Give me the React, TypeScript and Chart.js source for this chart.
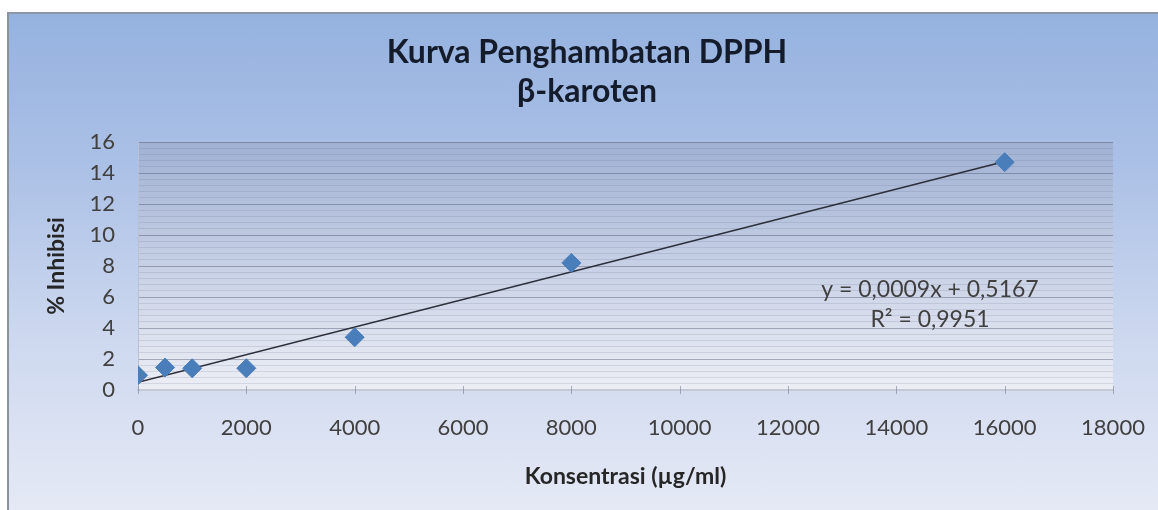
import React, { useEffect, useRef } from "react";
import { Chart, registerables } from "chart.js";

Chart.register(...registerables);

// ---- data ----
const concentrations = [0, 500, 1000, 2000, 4000, 8000, 16000];
const inhibition = [0.95, 1.45, 1.4, 1.4, 3.4, 8.2, 14.7];
const titleLines = ["Kurva Penghambatan DPPH", "β-karoten"];
const xTitle = "Konsentrasi (µg/ml)";
const yTitle = "% Inhibisi";
const equationLines = ["y = 0,0009x + 0,5167", "R² = 0,9951"];
const xTickValues = [0, 2000, 4000, 6000, 8000, 10000, 12000, 14000, 16000, 18000];
const yMajor = 2;
const yMinor = 0.4;

const FONT = "Lato, 'Open Sans', sans-serif";

function regression(xs: number[], ys: number[]) {
  const n = xs.length;
  const mx = xs.reduce((a, b) => a + b, 0) / n;
  const my = ys.reduce((a, b) => a + b, 0) / n;
  let sxy = 0, sxx = 0;
  for (let i = 0; i < n; i++) {
    sxy += (xs[i] - mx) * (ys[i] - my);
    sxx += (xs[i] - mx) * (xs[i] - mx);
  }
  const m = sxy / sxx;
  return { m, b: my - m * mx };
}

const isMajor = (v: number) => Math.abs(v / yMajor - Math.round(v / yMajor)) < 1e-6;

export default function App() {
  const ref = useRef<HTMLCanvasElement | null>(null);

  useEffect(() => {
    if (!ref.current) return;
    const { m, b } = regression(concentrations, inhibition);
    const xMin = Math.min(...concentrations);
    const xMax = Math.max(...concentrations);
    const trend = [
      { x: xMin, y: m * xMin + b },
      { x: xMax, y: m * xMax + b },
    ];

    const decor = {
      id: "decor",
      beforeDraw(chart: any) {
        const { ctx, chartArea: a } = chart;
        ctx.save();
        const g = ctx.createLinearGradient(0, a.top, 0, a.bottom);
        g.addColorStop(0, "#a0b1d3");
        g.addColorStop(0.5, "#c7d0e5");
        g.addColorStop(1, "#eceef5");
        ctx.fillStyle = g;
        ctx.fillRect(a.left, a.top, a.right - a.left, a.bottom - a.top);
        ctx.restore();
      },
      afterDraw(chart: any) {
        const { ctx, chartArea: a, scales } = chart;
        ctx.save();
        // x tick cross marks
        ctx.strokeStyle = "rgba(120,130,150,0.6)";
        ctx.lineWidth = 1;
        xTickValues.forEach((v) => {
          const px = Math.round(scales.x.getPixelForValue(v)) + 0.5;
          ctx.beginPath();
          ctx.moveTo(px, a.bottom - 4);
          ctx.lineTo(px, a.bottom + 4);
          ctx.stroke();
        });
        // title
        ctx.fillStyle = "#141b2b";
        ctx.textAlign = "center";
        ctx.textBaseline = "middle";
        ctx.font = `bold 32px ${FONT}`;
        ctx.fillText(titleLines[0], 580, 41);
        ctx.fillText(titleLines[1], 580, 80);
        // axis titles
        ctx.fillStyle = "#262626";
        ctx.font = `bold 23px ${FONT}`;
        ctx.fillText(xTitle, (a.left + a.right) / 2, 465);
        ctx.save();
        ctx.translate(50, (a.top + a.bottom) / 2);
        ctx.rotate(-Math.PI / 2);
        ctx.fillText(yTitle, 0, 0);
        ctx.restore();
        // equation
        ctx.fillStyle = "#404040";
        ctx.font = `23px ${FONT}`;
        ctx.fillText(equationLines[0], 923, 278);
        ctx.fillText(equationLines[1], 923, 308);
        ctx.restore();
      },
    };

    const chart = new Chart(ref.current, {
      type: "scatter",
      data: {
        datasets: [
          {
            label: "data",
            data: concentrations.map((x, i) => ({ x, y: inhibition[i] })),
            pointStyle: "rectRot",
            pointRadius: 9.5,
            pointHoverRadius: 9.5,
            backgroundColor: "#4a7ebb",
            borderColor: "#4a7ebb",
            borderWidth: 1,
            order: 1,
          },
          {
            label: "trend",
            type: "line",
            data: trend,
            borderColor: "#2b2f3a",
            borderWidth: 1.5,
            pointRadius: 0,
            showLine: true,
            fill: false,
            order: 2,
          } as any,
        ],
      },
      options: {
        animation: false,
        responsive: false,
        layout: { padding: { top: 130, right: 45, left: 0, bottom: 0 } },
        plugins: {
          legend: { display: false },
          title: { display: false },
          tooltip: { enabled: false },
        },
        scales: {
          x: {
            type: "linear",
            min: 0,
            max: 18000,
            afterFit: (s: any) => {
              s.height = 120;
              s.paddingLeft = 0;
              s.paddingRight = 0;
            },
            afterBuildTicks: (s: any) => { s.ticks = xTickValues.map((v) => ({ value: v })); },
            ticks: {
              color: "#404040",
              font: { family: FONT, size: 22 },
              padding: 25,
              maxRotation: 0,
              autoSkip: false,
              callback: (v: any) => String(v),
            },
            grid: { display: false, drawTicks: false },
            border: { display: true, color: "#c4c9d4", width: 2 },
          },
          y: {
            type: "linear",
            min: 0,
            max: 16,
            afterFit: (s: any) => {
              s.width = 131;
              s.paddingTop = 0;
              s.paddingBottom = 0;
            },
            afterBuildTicks: (s: any) => {
              const t = [];
              const n = Math.round(16 / yMinor);
              for (let i = 0; i <= n; i++) t.push({ value: +(i * yMinor).toFixed(4) });
              s.ticks = t;
            },
            ticks: {
              color: "#404040",
              font: { family: FONT, size: 22 },
              padding: 23,
              autoSkip: false,
              callback: (v: any) => (isMajor(Number(v)) ? String(Math.round(Number(v))) : ""),
            },
            grid: {
              drawTicks: false,
              color: (c: any) =>
                isMajor(c.tick.value) ? "rgba(70,80,105,0.42)" : "rgba(90,100,130,0.16)",
              lineWidth: 1,
            },
            border: { display: true, color: "#b9c0cf", width: 1 },
          },
        },
      },
      plugins: [decor],
    });
    return () => chart.destroy();
  }, []);

  return (
    <div
      style={{
        position: "absolute",
        left: 7,
        top: 12,
        width: 1151,
        height: 498,
        boxSizing: "border-box",
        borderLeft: "2px solid #8c929c",
        borderTop: "2px solid #8d96a8",
        background:
          "linear-gradient(to bottom, #95b2df 0%, #abc0e6 30%, #cdd8ef 65%, #e5e9f5 100%)",
        overflow: "hidden",
      }}
    >
      <canvas ref={ref} width={1151} height={498} style={{ position: "absolute", left: -2, top: -2 }} />
    </div>
  );
}
